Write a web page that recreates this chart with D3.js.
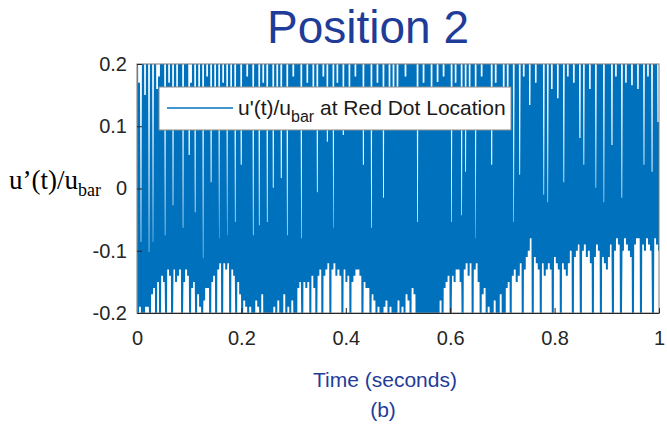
<!DOCTYPE html>
<html>
<head>
<meta charset="utf-8">
<script src="https://cdn.jsdelivr.net/npm/d3@7"></script>
<style>
  body { margin: 0; background: #fff; }
  svg { display: block; font-family: Arial, "Liberation Sans", sans-serif; }
</style>
</head>
<body>
<svg id="chart" width="667" height="428"></svg>
<script>
// u'(t)/u_bar at the red dot location: local maxima of each oscillation (values above 0.2 are clipped by the axes)
const peaks = [
  .25, .17, -.086, .25, .15, .25, -.102, .25, -.086, .25,
  .16, .18, .25, .25, -.075, .25, .17, .25, -.027, .25,
  .15, .25, .25, -.063, .25, .25, .054, .17, .25, -.038,
  .25, .16, .25, -.112, .25, .18, .25, .01, .25, .15,
  .25, -.08, .25, .17, .25, -.075, .25, .16, .25, -.054,
  .25, .25, .038, .25, .25, .18, .25, .25, -.075, .25,
  .25, -.059, .25, .17, .25, -.054, .25, .25, .001, .25,
  .16, .25, .017, .25, .25, -.075, .25, .25, .18, .25,
  .25, .25, -.08, .25, .25, .17, .25, .25, .15, .25,
  -.006, .25, .25, .18, .25, .075, .25, .25, -.063, .25,
  .17, .25, .25, .086, .25, .25, .16, .25, .25, .18,
  .25, .25, .25, .038, .25, .25, .25, -.063, .25, .25,
  .17, .25, .25, -.015, .25, .25, .16, .25, .102, .25,
  .097, .25, .25, .25, .18, .25, .25, .25, .25, .25,
  -.054, .25, .25, .17, .25, .25, .25, .16, .25, .25,
  .171, .25, .25, .18, .25, .25, .25, -.054, .25, .17,
  .25, .25, -.043, .25, .027, .25, .16, .25, .25, -.08,
  .25, .25, .18, .25, .25, .25, .25, .038, .25, .17,
  .25, .25, .25, .134, .25, .16, .25, .25, -.054, .25,
  .25, .022, .25, .18, .25, .25, .134, .25, .25, .17,
  .25, .25, .25, -.01, .25, -.022, .25, .16, .25, .25,
  .145, .25, .25, .01, .25, .18, .25, .25, .17, .25,
  .25, .081, .25, .038, .25, .25, .16, .25, .25, .001,
  .25, .25, .25, -.022, .25, .25, .25, .07, .25, .18,
  .25, .25, -.015, .25, .17, .25, .25, .166, .25, .25,
  .16, .25, .25, .038, .25, .18, .25, .027, .25, .25,
  .107
];

// local minima of each oscillation (values below -0.2 are clipped by the axes)
const troughs = [
  -.21, -.19, -.21, -.2, -.19,   -.19, -.21, -.17, -.16, -.21,
  -.15, -.21, -.14, -.15, -.2,   -.13, -.14, -.21, -.13, -.15,
  -.14, -.13, -.2, -.15, -.13,   -.14, -.21, -.16, -.15, -.21,
  -.17, -.19, -.21, -.18, -.16,  -.16, -.21, -.15, -.14, -.21,
  -.13, -.12, -.21, -.12, -.13,  -.12, -.21, -.13, -.14, -.2,
  -.15, -.17, -.21, -.18, -.19,  -.21, -.19, -.2, -.21, -.18,
  -.19, -.21, -.17, -.2, -.21,   -.21, -.2, -.21, -.19, -.21,
  -.18, -.21, -.2, -.17, -.21,   -.19, -.21, -.18, -.21, -.2,
  -.16, -.15, -.21, -.15, -.16,  -.15, -.21, -.14, -.16, -.2,
  -.14, -.13, -.21, -.14, -.13,  -.12, -.21, -.13, -.12, -.14,
  -.13, -.14, -.21, -.13, -.15,  -.14, -.21, -.15, -.14, -.13,
  -.13, -.14, -.21, -.15, -.16,  -.16, -.21, -.17, -.18, -.21,
  -.19, -.2, -.21, -.19, -.18,   -.21, -.19, -.2, -.21, -.2,
  -.18, -.21, -.19, -.2, -.17,   -.18, -.21, -.16, -.17, -.21,
  -.21, -.2, -.21, -.21, -.2,    -.21, -.21, -.2, -.21, -.21,
  -.2, -.18, -.21, -.16, -.15,   -.14, -.21, -.14, -.15, -.13,
  -.13, -.15, -.21, -.13, -.12,  -.14, -.12, -.21, -.13, -.12,
  -.15, -.21, -.17, -.16, -.21,  -.19, -.2, -.21, -.18, -.2,
  -.21, -.17, -.2, -.21, -.16,   -.15, -.21, -.14, -.13, -.15,
  -.14, -.12, -.21, -.13, -.11,  -.1, -.08, -.21, -.11, -.12,
  -.13, -.21, -.12, -.14, -.13,  -.12, -.13, -.21, -.11, -.12,
  -.13, -.21, -.12, -.13, -.14,  -.12, -.1, -.21, -.11, -.1,
  -.09, -.21, -.1, -.09, -.11,   -.1, -.12, -.21, -.11, -.09,
  -.1, -.21, -.11, -.12, -.13,   -.11, -.09, -.21, -.1, -.08,
  -.09, -.21, -.1, -.08, -.09,   -.1, -.11, -.21, -.09, -.08,
  -.08, -.21, -.09, -.1, -.08,   -.09, -.1, -.21, -.08, -.09,
  -.1
];

const xTickValues = [0, 0.2, 0.4, 0.6, 0.8, 1];
const xTickLabels = ["0", "0.2", "0.4", "0.6", "0.8", "1"];
const yTickValues = [-0.2, -0.1, 0, 0.1, 0.2];
const yTickLabels = ["-0.2", "-0.1", "0", "0.1", "0.2"];

const titleText = "Position 2";
const xLabelText = "Time (seconds)";
const panelText = "(b)";
const legendText = ["u'(t)/u", "bar", " at Red Dot Location"];
const yLabelText = ["u\u2019(t)/u", "bar"];

// Samples alternate maximum / minimum, evenly spaced over one second
const samples = [];
peaks.forEach((p, i) => { samples.push(p); samples.push(troughs[i]); });
const n = samples.length;
const series = samples.map((v, j) => ({ t: j / (n - 1), v }));

const plot = { left: 137, right: 659, top: 64, bottom: 313 };
const lineColor = "#0072BD";
const textBlue = "#1f3c99";
const axisColor = "#262626";

const svg = d3.select("#chart");

const x = d3.scaleLinear().domain([0, 1]).range([plot.left, plot.right]);
const y = d3.scaleLinear().domain([-0.2, 0.2]).range([plot.bottom, plot.top]);

svg.append("defs").append("clipPath").attr("id", "plot-clip")
  .append("rect")
  .attr("x", plot.left).attr("y", plot.top)
  .attr("width", plot.right - plot.left).attr("height", plot.bottom - plot.top);

// signal trace
svg.append("path")
  .datum(series)
  .attr("clip-path", "url(#plot-clip)")
  .attr("fill", "none")
  .attr("stroke", lineColor)
  .attr("stroke-width", 2)
  .attr("stroke-linejoin", "bevel")
  .attr("d", d3.line().x(d => x(d.t)).y(d => y(d.v)));

// axes box
svg.append("rect")
  .attr("x", plot.left).attr("y", plot.top)
  .attr("width", plot.right - plot.left).attr("height", plot.bottom - plot.top)
  .attr("fill", "none").attr("stroke", "#7a7a7a").attr("stroke-width", 1);

const xAxis = svg.append("g")
  .attr("transform", `translate(0,${plot.bottom})`)
  .call(d3.axisBottom(x).tickValues(xTickValues)
    .tickFormat((d, i) => xTickLabels[i])
    .tickSizeInner(-5).tickSizeOuter(0).tickPadding(18));
const yAxis = svg.append("g")
  .attr("transform", `translate(${plot.left},0)`)
  .call(d3.axisLeft(y).tickValues(yTickValues)
    .tickFormat((d, i) => yTickLabels[i])
    .tickSizeInner(-5).tickSizeOuter(0).tickPadding(10));

[xAxis, yAxis].forEach(g => {
  g.select(".domain").attr("stroke", axisColor);
  g.selectAll(".tick line").attr("stroke", axisColor);
  g.selectAll(".tick text")
    .attr("fill", axisColor)
    .style("font-family", "Arial, 'Liberation Sans', sans-serif")
    .style("font-size", "20px");
});
yAxis.select(".domain").attr("stroke", "#7a7a7a");

// legend
const legend = svg.append("g");
legend.append("rect")
  .attr("x", 159).attr("y", 87).attr("width", 352).attr("height", 43)
  .attr("fill", "#fff").attr("stroke", "#8a8a8a").attr("stroke-width", 1);
legend.append("line")
  .attr("x1", 167).attr("x2", 233).attr("y1", 108).attr("y2", 108)
  .attr("stroke", lineColor).attr("stroke-width", 1.3);
const lt = legend.append("text")
  .attr("x", 238).attr("y", 115)
  .attr("fill", "#1a1a1a")
  .style("font-size", "21px");
lt.append("tspan").text(legendText[0]);
lt.append("tspan").attr("dy", 7).style("font-size", "16px").text(legendText[1]);
lt.append("tspan").attr("dy", -7).text(legendText[2]);

// y-axis label (serif)
const yl = svg.append("text")
  .attr("x", 9).attr("y", 189)
  .attr("fill", "#000")
  .style("font-family", "'Liberation Serif', 'Times New Roman', serif")
  .style("font-size", "27px");
yl.append("tspan").text(yLabelText[0]);
yl.append("tspan").attr("dy", 7).style("font-size", "18px").text(yLabelText[1]);

// title, x label and panel tag
svg.append("text")
  .attr("x", 368).attr("y", 43).attr("text-anchor", "middle")
  .attr("fill", textBlue).style("font-size", "46px")
  .text(titleText);
svg.append("text")
  .attr("x", 385).attr("y", 387).attr("text-anchor", "middle")
  .attr("fill", textBlue).style("font-size", "21px")
  .text(xLabelText);
svg.append("text")
  .attr("x", 383).attr("y", 417).attr("text-anchor", "middle")
  .attr("fill", textBlue).style("font-size", "21px")
  .text(panelText);
</script>
</body>
</html>
